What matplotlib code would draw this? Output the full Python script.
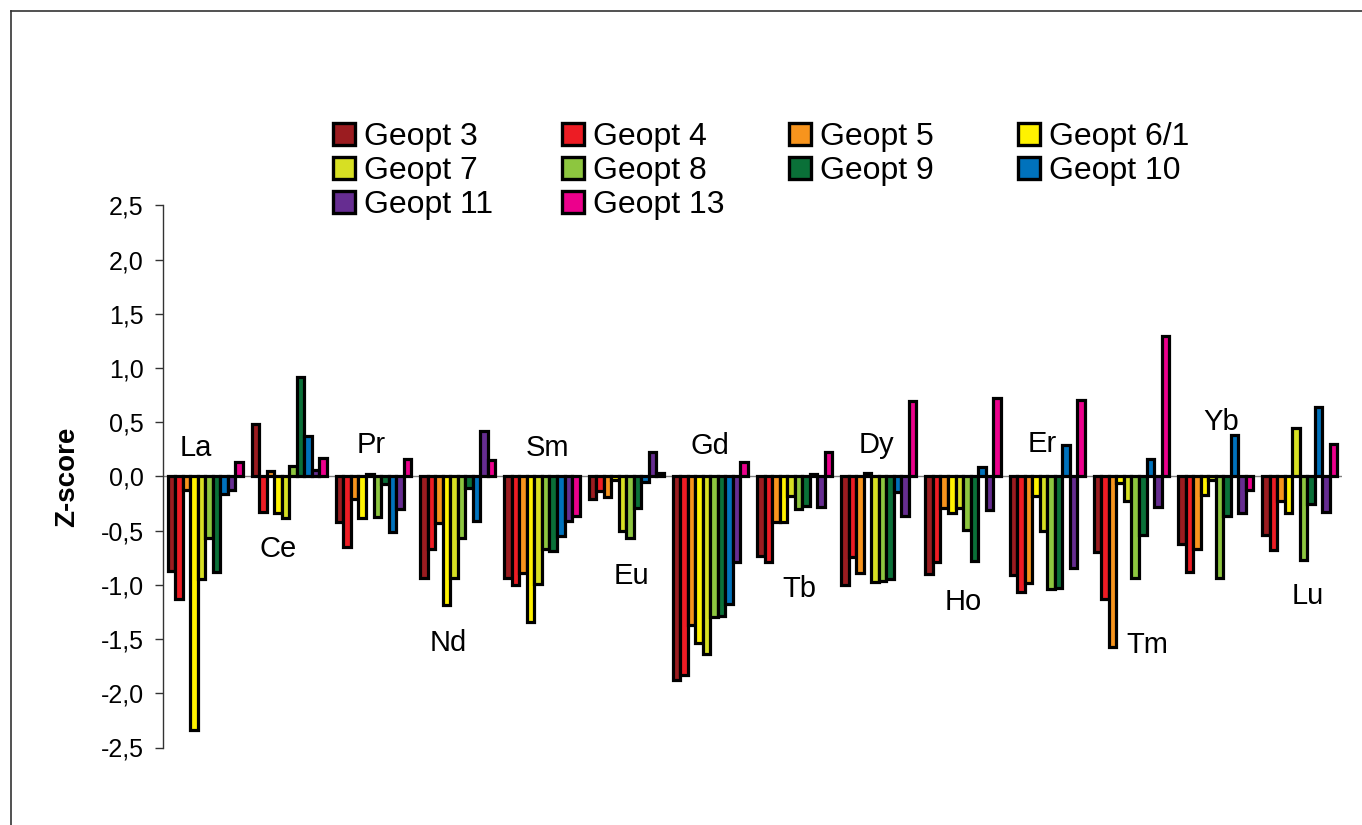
import matplotlib
matplotlib.use("Agg")
import matplotlib.pyplot as plt
from matplotlib.patches import Patch
from matplotlib.lines import Line2D
import numpy as np

plt.rcParams['font.family'] = ['Liberation Sans', 'DejaVu Sans']

elements = ['La', 'Ce', 'Pr', 'Nd', 'Sm', 'Eu', 'Gd', 'Tb', 'Dy', 'Ho', 'Er', 'Tm', 'Yb', 'Lu']
series_names = ['Geopt 3', 'Geopt 4', 'Geopt 5', 'Geopt 6/1', 'Geopt 7',
                'Geopt 8', 'Geopt 9', 'Geopt 10', 'Geopt 11', 'Geopt 13']

geopt3 = [-0.87, 0.48, -0.42, -0.94, -0.94, -0.21, -1.88, -0.73, -1.00, -0.90, -0.91, -0.70, -0.62, -0.54]
geopt4 = [-1.13, -0.33, -0.65, -0.67, -1.00, -0.13, -1.83, -0.79, -0.74, -0.79, -1.07, -1.13, -0.88, -0.68]
geopt5 = [-0.12, 0.05, -0.21, -0.43, -0.89, -0.19, -1.37, -0.42, -0.89, -0.29, -0.98, -1.57, -0.67, -0.23]
geopt6_1 = [-2.34, -0.34, -0.38, -1.19, -1.34, -0.03, -1.54, -0.42, 0.03, -0.34, -0.18, -0.06, -0.17, -0.34]
geopt7 = [-0.95, -0.38, 0.02, -0.94, -0.99, -0.50, -1.64, -0.18, -0.97, -0.29, -0.50, -0.23, -0.03, 0.45]
geopt8 = [-0.57, 0.10, -0.37, -0.57, -0.67, -0.57, -1.30, -0.30, -0.96, -0.49, -1.04, -0.94, -0.94, -0.77]
geopt9 = [-0.88, 0.92, -0.07, -0.11, -0.69, -0.29, -1.29, -0.27, -0.95, -0.78, -1.03, -0.54, -0.36, -0.25]
geopt10 = [-0.16, 0.37, -0.51, -0.41, -0.55, -0.05, -1.18, 0.02, -0.14, 0.09, 0.29, 0.16, 0.38, 0.64]
geopt11 = [-0.12, 0.06, -0.30, 0.42, -0.41, 0.23, -0.79, -0.28, -0.36, -0.31, -0.84, -0.28, -0.34, -0.33]
geopt13 = [0.13, 0.17, 0.16, 0.15, -0.36, 0.03, 0.13, 0.23, 0.70, 0.72, 0.71, 1.30, -0.12, 0.30]

series_values = [geopt3, geopt4, geopt5, geopt6_1, geopt7, geopt8, geopt9, geopt10, geopt11, geopt13]

yticks = [-2.5, -2.0, -1.5, -1.0, -0.5, 0.0, 0.5, 1.0, 1.5, 2.0, 2.5]
ytick_labels = ['-2,5', '-2,0', '-1,5', '-1,0', '-0,5', '0,0', '0,5', '1,0', '1,5', '2,0', '2,5']

# styling / layout (not data)
colors = ['#9B1C20', '#ED1C24', '#F7941D', '#FFF200', '#D7DF23',
          '#8DC63F', '#0A7038', '#0072BC', '#662D91', '#EC008C']
label_dx = [-0.11, -0.134, -0.03, -0.115, 0.067, 0.058, 0.0, 0.053, -0.032, 0.0, -0.064, 0.186, 0.065, 0.099]
label_y = [0.19, -0.74, 0.216, -1.61, 0.19, -0.99, 0.21, -1.11, 0.22, -1.23, 0.23, -1.63, 0.43, -1.18]

W, H = 1362, 825
fig = plt.figure(figsize=(W / 100, H / 100), dpi=100)
ax = fig.add_axes([163 / W, 1 - 747.5 / H, (1342 - 163) / W, (747.5 - 205.5) / H])

n = len(series_values)
group_w = 0.893
bw = group_w / n
x = np.arange(len(elements))
for k, (vals, col, name) in enumerate(zip(series_values, colors, series_names)):
    ax.bar(x - group_w / 2 + (k + 0.5) * bw, vals, width=bw, color=col,
           edgecolor='black', linewidth=2.3, label=name, zorder=2)

ax.axhline(0, color='#808080', lw=1.0, zorder=1)
ax.set_xlim(-0.5, 13.5)
ax.set_ylim(-2.5, 2.5)
ax.set_yticks(yticks)
ax.set_yticklabels(ytick_labels, fontsize=18)
ax.set_xticks([])
for s in ['top', 'right', 'bottom']:
    ax.spines[s].set_visible(False)
ax.spines['left'].set_color('#333333')
ax.spines['left'].set_linewidth(1.0)
ax.tick_params(axis='y', length=6, width=1.0, color='#333333', pad=8)

for i, el in enumerate(elements):
    ax.text(i + label_dx[i], label_y[i], el, fontsize=21, ha='center', va='baseline')

fig.text(67 / W, 1 - 477 / H, 'Z-score', rotation=90, fontsize=20, fontweight='bold',
         ha='center', va='center')

# legend: 4 columns laid out row-wise
col_x = [333, 562, 789, 1018]
handles = [Patch(facecolor=c, edgecolor='black', linewidth=2.4) for c in colors]
for c in range(4):
    idx = [i for i in range(n) if i % 4 == c]
    fig.legend([handles[i] for i in idx], [series_names[i] for i in idx],
               loc='upper left', bbox_to_anchor=(col_x[c] / W, 1 - 122 / H),
               frameon=False, fontsize=23, borderpad=0, borderaxespad=0,
               handlelength=0.68, handleheight=0.68, handletextpad=0.28,
               labelspacing=0.13)

# outer frame lines (top and left)
fig.add_artist(Line2D([11 / W, 1.0], [1 - 11 / H, 1 - 11 / H], transform=fig.transFigure,
                      color='#333333', lw=1.2))
fig.add_artist(Line2D([11 / W, 11 / W], [0.0, 1 - 11 / H], transform=fig.transFigure,
                      color='#333333', lw=1.2))

fig.savefig('out.png', dpi=100)
